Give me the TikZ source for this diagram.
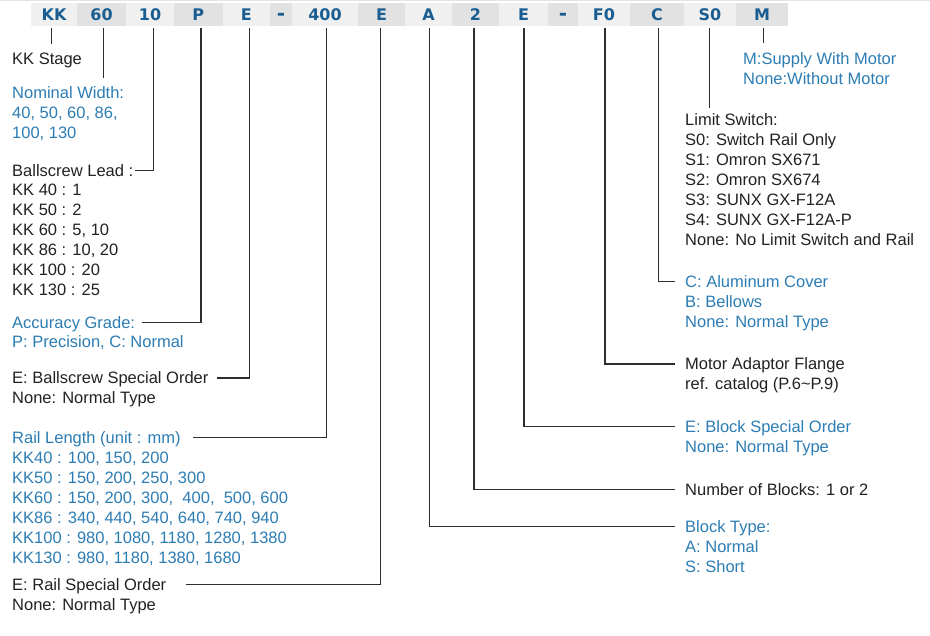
\documentclass[tikz,border=0pt]{standalone}
\usepackage{fontspec}
\setmainfont{Liberation Sans}
\newfontfamily\hdrfont{DejaVu Sans}
\usetikzlibrary{calc}
\definecolor{hdrblue}{RGB}{26,94,145}
\definecolor{txtblue}{RGB}{45,125,180}
\definecolor{txtblack}{RGB}{34,34,34}
\definecolor{linegray}{RGB}{45,45,45}
\definecolor{celllight}{RGB}{240,240,240}
\definecolor{celldark}{RGB}{226,226,226}
\definecolor{topline}{RGB}{228,228,228}
\newcommand{\mylines}[1]{\begin{tabular}[t]{@{}l@{}}#1\end{tabular}}
\begin{document}
\begin{tikzpicture}[x=1pt,y=-1pt,
  cell/.style={minimum height=23pt, inner sep=0pt, text height=11.7pt, text depth=0pt, font=\hdrfont\bfseries\fontsize{16}{16}\selectfont, text=hdrblue},
  lt/.style={cell, fill=celllight},
  dk/.style={cell, fill=celldark},
  dashcell/.style={font=\hdrfont\bfseries\fontsize{20}{20}\selectfont},
  head/.style={anchor=base west, inner sep=0pt, text height=12pt, text depth=0pt, font=\fontsize{16.5}{20}\selectfont},
  body/.style={anchor=base west, inner sep=0pt, font=\fontsize{16.5}{20}\selectfont},
  blk/.style={text=txtblack},
  blu/.style={text=txtblue},
  conn/.style={draw=linegray, line width=1.3pt}
]
\useasboundingbox (0,0) rectangle (930,636);
\fill[white] (0,0) rectangle (930,636);
\draw[topline, line width=1pt] (0,0.5) -- (930,0.5);

% header cells
\node[lt,minimum width=46pt]   (cKK)  at (54,14.5)    {KK};
\node[dk,minimum width=49pt]   (c60)  at (101.5,14.5) {60};
\node[lt,minimum width=48pt]   (c10)  at (150,14.5)   {10};
\node[dk,minimum width=48.5pt] (cP)   at (198.25,14.5){P};
\node[lt,minimum width=47.5pt] (cE1)  at (246.25,14.5){E};
\node[dk,dashcell,minimum width=22pt] (cD1) at (281,14.5) {-};
\node[lt,minimum width=66pt]   (c400) at (325,14.5)   {400};
\node[dk,minimum width=47pt]   (cE2)  at (381.5,14.5) {E};
\node[lt,minimum width=47pt]   (cA)   at (428.5,14.5) {A};
\node[dk,minimum width=47pt]   (c2)   at (475.5,14.5) {2};
\node[lt,minimum width=49pt]   (cE3)  at (523.5,14.5) {E};
\node[dk,dashcell,minimum width=30pt] (cD2) at (563,14.5) {-};
\node[lt,minimum width=52pt]   (cF0)  at (604,14.5)   {F0};
\node[dk,minimum width=54pt]   (cC)   at (657,14.5)   {C};
\node[lt,minimum width=52pt]   (cS0)  at (710,14.5)   {S0};
\node[dk,minimum width=52pt]   (cM)   at (762,14.5)   {M};

% left column
\node[head,blk] (stage) at (12,65) {KK Stage};
\node[head,blu] (nw) at (12,99) {Nominal Width:};
\node[body,blu] (nwb) at (12,119) {\mylines{40, 50, 60, 86,\\100, 130}};
\node[head,blk] (bl) at (12,176.7) {Ballscrew Lead :};
\node[body,blk] (blb) at (12,196) {\mylines{KK 40 : 1\\KK 50 : 2\\KK 60 : 5, 10\\KK 86 : 10, 20\\KK 100 : 20\\KK 130 : 25}};
\node[head,blu] (ag) at (12,328.3) {Accuracy Grade:};
\node[body,blu] (agb) at (12,348) {P: Precision, C: Normal};
\node[head,blk] (eb) at (12,384) {E: Ballscrew Special Order};
\node[body,blk] (ebb) at (12,403.5) {None: Normal Type};
\node[head,blu] (rl) at (12,443.3) {Rail Length (unit : mm)};
\node[body,blu] (rlb) at (12,463.3) {\mylines{KK40 : 100, 150, 200\\KK50 : 150, 200, 250, 300\\KK60 : 150, 200, 300, \ 400, \ 500, 600\\KK86 : 340, 440, 540, 640, 740, 940\\KK100 : 980, 1080, 1180, 1280, 1380\\KK130 : 980, 1180, 1380, 1680}};
\node[head,blk] (er) at (12,590.7) {E: Rail Special Order};
\node[body,blk] (erb) at (12,610.3) {None: Normal Type};

% right column
\node[head,blu] (mm) at (743,65) {M:Supply With Motor};
\node[body,blu] (mmb) at (743,85) {None:Without Motor};
\node[head,blk] (ls) at (685,126) {Limit Switch:};
\node[body,blk] (lsb) at (685,146) {\mylines{S0: Switch Rail Only\\S1: Omron SX671\\S2: Omron SX674\\S3: SUNX GX-F12A\\S4: SUNX GX-F12A-P\\None: No Limit Switch and Rail}};
\node[head,blu] (cv) at (685,287.3) {C: Aluminum Cover};
\node[body,blu] (cvb) at (685,307.5) {\mylines{B: Bellows\\None: Normal Type}};
\node[head,blk] (mf) at (685,370) {Motor Adaptor Flange};
\node[body,blk] (mfb) at (685,390) {ref. catalog (P.6\textasciitilde P.9)};
\node[head,blu] (eo) at (685,432.7) {E: Block Special Order};
\node[body,blu] (eob) at (685,452.7) {None: Normal Type};
\node[head,blk] (nb) at (685,495.7) {Number of Blocks: 1 or 2};
\node[head,blu] (bt) at (685,532.7) {Block Type:};
\node[body,blu] (btb) at (685,552.7) {\mylines{A: Normal\\S: Short}};

% connectors
\draw[conn] ([xshift=-2.3pt,yshift=-2pt]cKK.south) -- ($(cKK.south |- stage.north)+(-2.3,-9)$);
\draw[conn] ([xshift=1.8pt,yshift=-2pt]c60.south) -- ($(c60.south |- nw.north)+(1.8,-9)$);
\draw[conn] ([xshift=3.3pt,yshift=-2pt]c10.south) |- ([xshift=2pt]bl.east);
\draw[conn] ([xshift=2.75pt,yshift=-2pt]cP.south) |- ([xshift=7pt]ag.east);
\draw[conn] ([xshift=3pt,yshift=-2pt]cE1.south) |- ([xshift=8pt]eb.east);
\draw[conn] ([xshift=1.7pt,yshift=-2pt]c400.south) |- ([xshift=12pt]rl.east);
\draw[conn] ([xshift=-0.8pt,yshift=-2pt]cE2.south) |- ([xshift=20pt]er.east);
\draw[conn] ([xshift=0.8pt,yshift=-2pt]cA.south) |- ([xshift=-10pt]bt.west);
\draw[conn] ([xshift=-1.5pt,yshift=-2pt]c2.south) |- ([xshift=-10pt]nb.west);
\draw[conn] ([xshift=0.5pt,yshift=-2pt]cE3.south) |- ([xshift=-10pt]eo.west);
\draw[conn] ([xshift=1pt,yshift=-2pt]cF0.south) |- ([xshift=-10pt]mf.west);
\draw[conn] ([xshift=1.3pt,yshift=-2pt]cC.south) |- ([xshift=-10pt]cv.west);
\draw[conn] ([xshift=-0.7pt,yshift=-2pt]cS0.south) -- ($(cS0.south |- ls.north)+(-0.7,-6)$);
\draw[conn] ([xshift=1.3pt,yshift=-2pt]cM.south) -- ($(cM.south |- mm.north)+(1.3,-10)$);
\end{tikzpicture}
\end{document}
